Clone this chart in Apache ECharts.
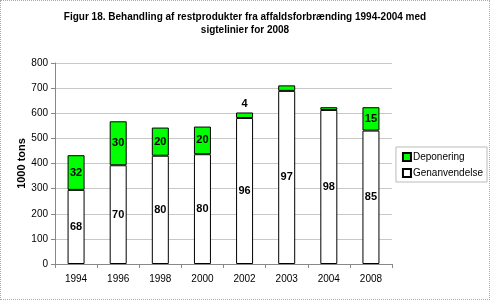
<!DOCTYPE html>
<html>
<head>
<meta charset="utf-8">
<script src="https://cdn.jsdelivr.net/npm/echarts@6/dist/echarts.min.js"></script>
<style>
  html, body { margin: 0; padding: 0; background: #fff; }
  #chart { width: 488px; height: 298px; border: 1px dotted #aaa; }
</style>
</head>
<body>
<div id="chart"></div>
<script>
// aar og maengder (1000 tons), etiketter er procentandele
var years = ['1994', '1996', '1998', '2000', '2002', '2003', '2004', '2008'];
var genanvendelse = [295, 393, 431, 437, 581, 689, 613, 531];
var deponering = [138, 175, 112, 110, 22, 22, 11, 93];
var genPct = ['68', '70', '80', '80', '96', '97', '98', '85'];
var depPct = ['32', '30', '20', '20', '4', '', '', '15'];
var yTicks = [0, 100, 200, 300, 400, 500, 600, 700, 800];

var chart = echarts.init(document.getElementById('chart'));

var depData = deponering.map(function(v, i) {
    var item = { value: v };
    // tynde segmenter faar etiketten over soejlen
    if (v < 30) {
        item.label = { position: 'top', distance: 3 };
    }
    return item;
});

option = {
    animation: false,
    textStyle: { fontFamily: 'Liberation Sans' },
    title: {
        text: 'Figur 18. Behandling af restprodukter fra affaldsforbrænding 1994-2004 med\nsigtelinier for 2008',
        left: 'center',
        top: 5,
        textStyle: { fontFamily: 'Liberation Sans', fontWeight: 'bold', fontSize: 10, lineHeight: 13, color: '#000' }
    },
    legend: {
        orient: 'vertical',
        right: 2,
        top: 146,
        data: ['Deponering', 'Genanvendelse'],
        itemWidth: 8,
        itemHeight: 8,
        itemGap: 6,
        padding: [5, 4, 4, 6],
        borderColor: '#bbb',
        borderWidth: 1,
        icon: 'rect',
        textStyle: { fontFamily: 'Liberation Sans', fontSize: 10, color: '#000', padding: [0, 0, 0, -3] }
    },
    grid: { left: 54, right: 97, top: 62, bottom: 35 },
    xAxis: {
        type: 'category',
        data: years,
        axisLine: { lineStyle: { color: '#888' } },
        axisTick: { show: true, alignWithLabel: false, length: 4, lineStyle: { color: '#888' } },
        axisLabel: { fontFamily: 'Liberation Sans', fontSize: 10, color: '#000', margin: 10 }
    },
    yAxis: {
        type: 'value',
        min: yTicks[0],
        max: yTicks[yTicks.length - 1],
        interval: 100,
        name: '1000 tons',
        nameLocation: 'middle',
        nameGap: 28,
        nameMoveOverlap: false,
        nameTextStyle: { fontFamily: 'Liberation Sans', fontWeight: 'bold', fontSize: 11, color: '#000' },
        axisLine: { show: true, lineStyle: { color: '#888' } },
        axisTick: { show: true, length: 4, lineStyle: { color: '#888' } },
        axisLabel: { fontFamily: 'Liberation Sans', fontSize: 10, color: '#000', margin: 7 },
        splitLine: { lineStyle: { color: '#c8c8c8' } }
    },
    series: [
        {
            name: 'Genanvendelse',
            type: 'bar',
            stack: 'total',
            barWidth: 17,
            data: genanvendelse,
            itemStyle: { color: '#ffffff', borderColor: '#000', borderWidth: 1 },
            label: {
                show: true,
                position: 'inside',
                formatter: function(p) { return genPct[p.dataIndex]; },
                fontFamily: 'Liberation Sans', fontWeight: 'bold', fontSize: 11, color: '#000'
            }
        },
        {
            name: 'Deponering',
            type: 'bar',
            stack: 'total',
            barWidth: 17,
            data: depData,
            itemStyle: { color: '#00ff00', borderColor: '#000', borderWidth: 1 },
            label: {
                show: true,
                position: 'inside',
                formatter: function(p) { return depPct[p.dataIndex]; },
                fontFamily: 'Liberation Sans', fontWeight: 'bold', fontSize: 11, color: '#000'
            }
        }
    ]
};

chart.setOption(option);
</script>
</body>
</html>
